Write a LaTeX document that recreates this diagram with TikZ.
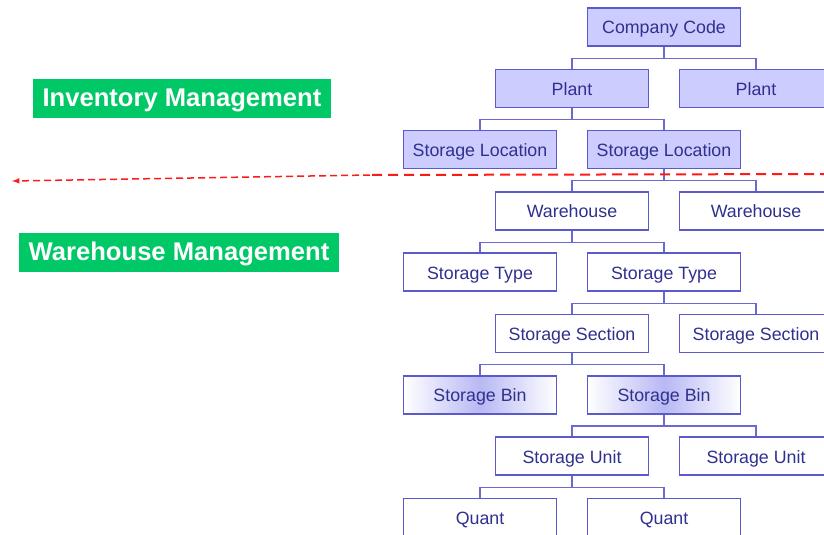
\documentclass[tikz,border=0pt]{standalone}
\usepackage{fontspec}
\setmainfont{Liberation Sans}
\definecolor{boxline}{HTML}{5A5ACD}
\definecolor{boxtext}{HTML}{30308F}
\definecolor{boxfill}{HTML}{CCCCFF}
\definecolor{binfill}{HTML}{B8B8F4}
\definecolor{linkline}{HTML}{6A6AD0}
\definecolor{mgmtgreen}{HTML}{00C866}
\definecolor{cutred}{HTML}{FF1A1A}
\tikzset{
  box/.style={draw=boxline, line width=1.5pt, fill=white, text=boxtext,
    minimum width=153pt, minimum height=38pt, inner sep=0pt,
    text height=14pt, text depth=0pt,
    font=\fontsize{17.8}{20}\selectfont},
  filledbox/.style={box, fill=boxfill},
  binbox/.style={box, left color=white, right color=white, middle color=binfill},
  mgmt/.style={fill=mgmtgreen, text=white, inner xsep=10pt, minimum height=39pt,
    text height=17pt, text depth=0pt,
    font=\fontsize{25.6}{28}\bfseries\selectfont},
  cutline/.style={draw=cutred, line width=2pt, dash pattern=on 10pt off 6pt},
  cutarrow/.style={draw=cutred, line width=1.5pt, dash pattern=on 7pt off 4pt}
}
\begin{document}
\begin{tikzpicture}[x=1pt, y=1pt,
  level distance=61.3pt, sibling distance=184pt,
  edge from parent/.style={draw=linkline, line width=1.2pt},
  edge from parent path={(\tikzparentnode.south) -- ++(0,-11.5) -| (\tikzchildnode.north)}]
\useasboundingbox (0,0) rectangle (824,-535);
\node[filledbox](cc) at (664,-27){Company Code}
	child{ node[filledbox](pl1){Plant}
		child{node[filledbox](sl1){Storage Location}}
		child{node[filledbox](sl2){Storage Location}
			child{node[box](wh1){Warehouse}
				child{node[box](st1){Storage Type}}
				child{node[box](st2){Storage Type}
					child{node[box](ss1){Storage Section}
						child{node[binbox](sb1){Storage Bin}}
						child{node[binbox](sb2){Storage Bin}
							child{node[box](su1){Storage Unit}
								child{node[box](qu1){Quant}}
								child{node[box](qu2){Quant}}}
							child{node[box](su2){Storage Unit}}}}
					child{node[box](ss2){Storage Section}}}}
			child{node[box](wh2){Warehouse}}}}
	child{ node[filledbox](pl2){Plant} };
\node[mgmt](inv) at (182,-98){Inventory Management};
\node[mgmt](whm) at (179,-252){Warehouse Management};
\coordinate (cutright) at (830,-174);
\coordinate (cutsplit) at (370,-175);
\coordinate (cutend) at (12,-181);
\draw[cutline] (cutright) -- (cutsplit);
\draw[cutarrow,-latex] (cutsplit) -- (cutend);
\end{tikzpicture}
\end{document}
